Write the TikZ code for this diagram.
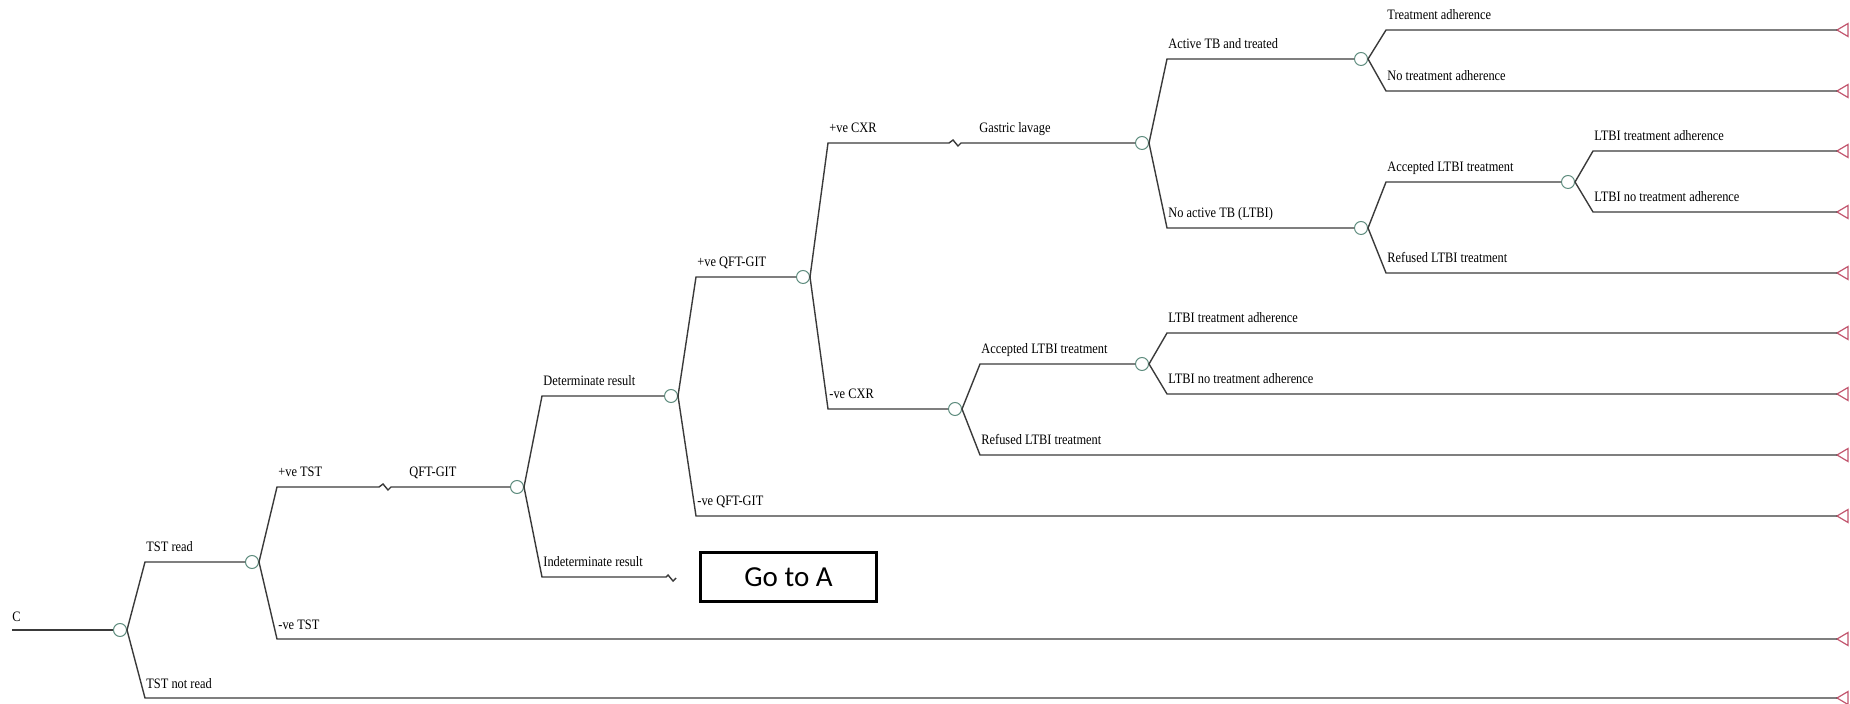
\documentclass[tikz,border=0pt]{standalone}
\usepackage{fontspec}
\setmainfont[FakeStretch=0.86]{Liberation Serif}
\newfontfamily\boxfont{Carlito}
\usepackage{xcolor}
\usepackage{tikz}
\definecolor{chancecol}{HTML}{5E8C7E}
\definecolor{termcol}{HTML}{C2566E}
\definecolor{linecol}{HTML}{3A3A3A}
\tikzset{
  chance/.style={circle, draw=chancecol, fill=white, line width=0.5pt,
    minimum size=6.5pt, inner sep=0pt},
  branch/.style={draw=linecol, line width=0.7pt},
  lbl/.style={anchor=base west, inner sep=0pt, font=\fontsize{7.2}{8}\selectfont},
  term/.pic={\draw[termcol, line width=0.6pt] (0,0) -- (11,-6.5) -- (11,6.5) -- cycle;}
}

\begin{document}
\begin{tikzpicture}[x=0.5pt, y=-0.5pt]
        \useasboundingbox (0,0) rectangle (1850,704);
        \foreach \nn/\xx/\yy in
            {n0/120/630, n1/252/562, n2/517/487, n3/671/396, n4/803/277, n5/1142/143,
             n6/955/409, n7/1361/59, n8/1361/228, n9/1568/182, n10/1142/364} {
          \node[chance] (\nn) at (\xx,\yy) {};
        }
        \foreach[count=\i from 1] \yy in {30, 91, 151, 212, 273, 333, 394, 455, 516, 639, 698} {
          \coordinate (t\i) at (1837,\yy);
          \pic at (t\i) {term};
        }
        \coordinate (root) at (12,630);
        \draw[branch] (root) -- (n0);
        \node[lbl] (lc) at (12,621) {C};
        \foreach[count=\i from 1] \aa/\bb/\txt in
            {n0/n1/TST read, n0/t11/TST not read, n1/t10/-ve TST, n2/n3/Determinate result,
             n3/n4/+ve QFT-GIT, n3/t9/-ve QFT-GIT, n4/n6/-ve CXR,
             n5/n7/Active TB and treated, n5/n8/No active TB (LTBI),
             n6/n10/Accepted LTBI treatment, n6/t8/Refused LTBI treatment,
             n7/t1/Treatment adherence, n7/t2/No treatment adherence,
             n8/n9/Accepted LTBI treatment, n8/t5/Refused LTBI treatment,
             n9/t3/LTBI treatment adherence, n9/t4/LTBI no treatment adherence,
             n10/t6/LTBI treatment adherence, n10/t7/LTBI no treatment adherence} {
          \path (\aa.center) ++(25,0) coordinate (kk);
          \draw[branch] (\aa.east) -- (kk |- \bb) -- (\bb);
          \path (kk |- \bb) ++(1,-10) coordinate (ll);
          \node[lbl] (lb\i) at (ll) {\txt};
        }
        \foreach[count=\i from 1] \aa/\bb/\zx/\txt/\txtb in
            {n1/n2/379/+ve TST/QFT-GIT, n4/n5/949/+ve CXR/Gastric lavage} {
          \path (\aa.center) ++(25,0) coordinate (kk);
          \coordinate (zz) at (\zx,0);
          \draw[branch] (\aa.east) -- (kk |- \bb) -- (zz |- \bb)
            -- ++(4,-3) -- ++(5,6) -- ++(3,-3) -- (\bb);
          \path (kk |- \bb) ++(1,-10) coordinate (ll);
          \node[lbl] (lz\i) at (ll) {\txt};
          \path (zz |- \bb) ++(30,-10) coordinate (ll);
          \node[lbl] (lw\i) at (ll) {\txtb};
        }
        \coordinate (ind) at (666,577);
        \path (n2.center) ++(25,0) coordinate (kk);
        \draw[branch] (n2.east) -- (kk |- ind) -- (ind) -- ++(2,-2) -- ++(5,6) -- ++(3,-3);
        \path (kk |- ind) ++(1,-10) coordinate (ll);
        \node[lbl] (lind) at (ll) {Indeterminate result};
        \node[draw, line width=1.5pt, minimum width=88pt, minimum height=24.5pt, inner sep=0pt,
          font=\boxfont\fontsize{14.5}{16}\selectfont] (goA) at (788.5,577) {Go to A};
      \end{tikzpicture}
\end{document}
